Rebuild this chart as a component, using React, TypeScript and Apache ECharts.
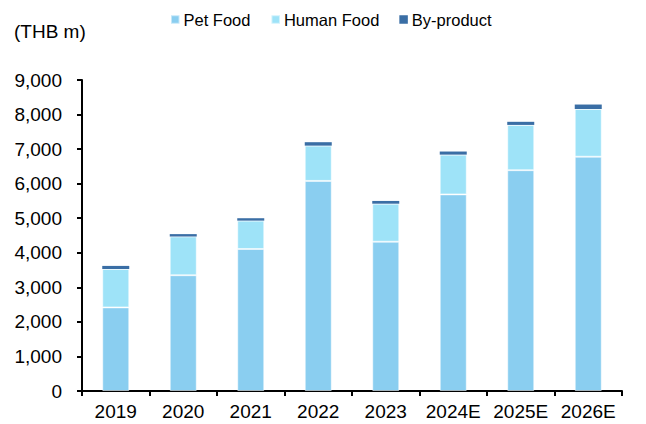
import React, { useEffect, useRef } from "react";
import * as echarts from "echarts";

const categories = ["2019", "2020", "2021", "2022", "2023", "2024E", "2025E", "2026E"];
const petFood = [2420, 3350, 4110, 6080, 4320, 5690, 6390, 6780];
const humanFood = [1110, 1120, 820, 1020, 1100, 1150, 1310, 1380];
const byProduct = [90, 70, 70, 100, 80, 90, 90, 130];
const unitLabel = "(THB m)";

export default function App() {
  const ref = useRef<HTMLDivElement>(null);
  useEffect(() => {
    document.body.style.margin = "0";
    if (!ref.current) return;
    const chart = echarts.init(ref.current, null, { renderer: "svg" });
    const font = "Liberation Sans, Arial, sans-serif";
    const barStyle = (color: string, border: boolean) => ({
      color,
      borderColor: border ? "rgba(255,255,255,0.5)" : color,
      borderWidth: border ? 1 : 0,
    });
    chart.setOption({
      animation: false,
      textStyle: { fontFamily: font },
      legend: {
        left: 170,
        top: 11,
        padding: 0,
        itemWidth: 8.5,
        itemHeight: 8.5,
        itemGap: 20,
        icon: "rect",
        textStyle: { fontSize: 16.5, color: "#000", fontFamily: font, padding: [0, 0, 0, -1] },
        data: ["Pet Food", "Human Food", "By-product"],
      },
      graphic: [
        {
          type: "text",
          left: 14,
          top: 22,
          style: { text: unitLabel, fontSize: 19, fill: "#000", fontFamily: font },
        },
      ],
      grid: { left: 82, right: 24, top: 80, bottom: 33, containLabel: false },
      xAxis: {
        type: "category",
        data: categories,
        axisLine: { lineStyle: { color: "#000", width: 2 } },
        axisTick: { show: true, length: 5, lineStyle: { color: "#000", width: 2 }, alignWithLabel: false },
        axisLabel: { color: "#000", fontSize: 19, margin: 11, fontFamily: font, interval: 0, hideOverlap: false },
      },
      yAxis: {
        type: "value",
        min: 0,
        max: 9000,
        interval: 1000,
        splitLine: { show: false },
        axisLine: { show: true, lineStyle: { color: "#000", width: 2 } },
        axisTick: { show: true, length: 5, lineStyle: { color: "#000", width: 2 } },
        axisLabel: {
          color: "#000",
          fontSize: 19,
          margin: 20,
          fontFamily: font,
          formatter: (v: number) => v.toLocaleString("en-US"),
        },
      },
      series: [
        { name: "Pet Food", type: "bar", stack: "t", barWidth: "40%", data: petFood, itemStyle: barStyle("#8ACEF0", true) },
        { name: "Human Food", type: "bar", stack: "t", data: humanFood, itemStyle: barStyle("#9EE3F8", true) },
        { name: "By-product", type: "bar", stack: "t", data: byProduct, itemStyle: barStyle("#3A6EA5", false) },
      ],
    });
    return () => chart.dispose();
  }, []);
  return <div ref={ref} style={{ width: 646, height: 424 }} />;
}
